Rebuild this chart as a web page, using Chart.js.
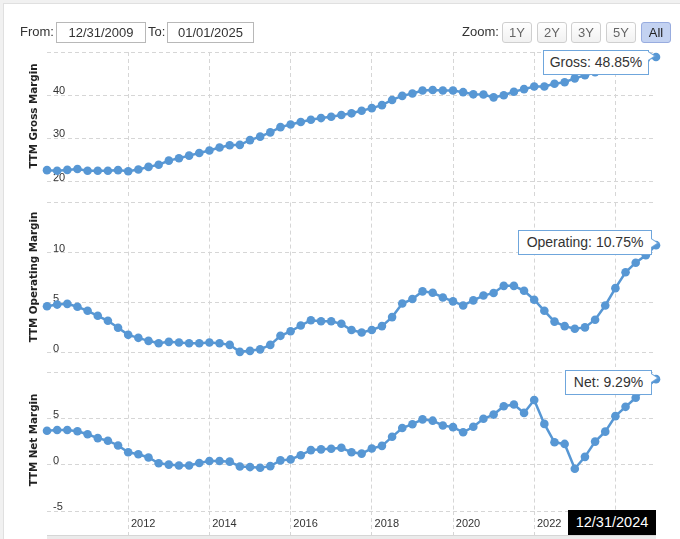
<!DOCTYPE html>
<html><head><meta charset="utf-8">
<script src="https://cdn.jsdelivr.net/npm/chart.js@4.4.1/dist/chart.umd.min.js"></script>
<style>
html,body{margin:0;padding:0;width:680px;height:539px;overflow:hidden;background:#f1f1f1;font-family:"Liberation Sans",Arial,sans-serif;}
#frame{position:absolute;left:3px;top:3px;width:680px;height:540px;background:#fff;border-left:1px solid #e0e0e0;border-top:1px solid #e0e0e0;box-sizing:border-box;}
canvas{position:absolute;left:0;z-index:2;}
.lbl{position:absolute;font-size:13px;color:#333;line-height:20px;z-index:3;}
.inp{position:absolute;top:22px;height:21px;border:1px solid #b8b8b8;box-sizing:border-box;font-size:13px;color:#333;text-align:center;line-height:19px;background:#fff;z-index:3;}
.btn{position:absolute;top:22px;width:30px;height:21px;box-sizing:border-box;border:1px solid #cfcfcf;border-radius:3px;background:linear-gradient(#ffffff,#f1f1f1);font-size:13px;color:#666;text-align:center;line-height:19px;z-index:3;}
.btn.on{background:#c3d2f1;border-color:#98acdf;color:#222;}
.ytitle{position:absolute;left:33px;font:bold 10.3px "DejaVu Sans",Verdana,sans-serif;color:#222;white-space:nowrap;line-height:12px;transform:translate(-50%,-50%) rotate(-90deg);z-index:3;}
.tip{position:absolute;height:25px;box-sizing:border-box;border:1px solid #6fa6dc;background:#fff;font-size:14px;color:#333;text-align:center;line-height:23px;z-index:4;}
.tip .arw{position:absolute;right:-8px;width:0;height:0;border-top:5px solid transparent;border-bottom:5px solid transparent;border-left:8px solid #6fa6dc;}
.tip .arw2{position:absolute;right:-6px;width:0;height:0;border-top:4px solid transparent;border-bottom:4px solid transparent;border-left:6px solid #fff;}
#datebox{position:absolute;left:568px;top:510px;width:88px;height:25px;background:#000;color:#fff;font-size:14.5px;text-align:center;line-height:25px;z-index:4;}
#navbar{position:absolute;left:47px;top:535px;width:609px;height:4px;background:#ebebeb;border-top:1px solid #d6d6d6;z-index:3;}
</style></head>
<body>
<div id="frame"></div>
<div class="lbl" style="left:20px;top:22px;">From:</div>
<div class="inp" id="fromBox" style="left:56px;width:90px;"></div>
<div class="lbl" style="left:148px;top:22px;">To:</div>
<div class="inp" id="toBox" style="left:167px;width:87px;"></div>
<div class="lbl" style="left:462px;top:22px;">Zoom:</div>
<div class="btn" style="left:502px;">1Y</div>
<div class="btn" style="left:537px;">2Y</div>
<div class="btn" style="left:571px;">3Y</div>
<div class="btn" style="left:606px;">5Y</div>
<div class="btn on" style="left:641px;">All</div>

<div class="ytitle" style="top:116px;">TTM Gross Margin</div>
<div class="ytitle" style="top:277px;">TTM Operating Margin</div>
<div class="ytitle" style="top:440px;">TTM Net Margin</div>

<canvas id="cG" width="680" height="210" style="top:0px;width:680px;height:210px;"></canvas>
<canvas id="cO" width="680" height="190" style="top:190px;width:680px;height:190px;"></canvas>
<canvas id="cN" width="680" height="179" style="top:360px;width:680px;height:179px;"></canvas>

<div class="tip" id="tipG" style="left:543px;top:50px;width:106px;"><span></span><div class="arw" style="top:0px;"></div><div class="arw2" style="top:1px;"></div></div>
<div class="tip" id="tipO" style="left:518px;top:230px;width:134px;"><span></span><div class="arw" style="top:7px;"></div><div class="arw2" style="top:8px;"></div></div>
<div class="tip" id="tipN" style="left:565px;top:370px;width:87px;"><span></span><div class="arw" style="top:2px;"></div><div class="arw2" style="top:3px;"></div></div>
<div id="datebox"></div>
<div id="navbar"></div>

<script>
// ---- data ----
const quarterDates = [
  '2009-12-31',
  '2010-03-31','2010-06-30','2010-09-30','2010-12-31',
  '2011-03-31','2011-06-30','2011-09-30','2011-12-31',
  '2012-03-31','2012-06-30','2012-09-30','2012-12-31',
  '2013-03-31','2013-06-30','2013-09-30','2013-12-31',
  '2014-03-31','2014-06-30','2014-09-30','2014-12-31',
  '2015-03-31','2015-06-30','2015-09-30','2015-12-31',
  '2016-03-31','2016-06-30','2016-09-30','2016-12-31',
  '2017-03-31','2017-06-30','2017-09-30','2017-12-31',
  '2018-03-31','2018-06-30','2018-09-30','2018-12-31',
  '2019-03-31','2019-06-30','2019-09-30','2019-12-31',
  '2020-03-31','2020-06-30','2020-09-30','2020-12-31',
  '2021-03-31','2021-06-30','2021-09-30','2021-12-31',
  '2022-03-31','2022-06-30','2022-09-30','2022-12-31',
  '2023-03-31','2023-06-30','2023-09-30','2023-12-31',
  '2024-03-31','2024-06-30','2024-09-30','2024-12-31'
];
const grossMargin = [
  22.65,22.5,22.7,22.9,22.5,22.5,22.5,22.65,22.4,22.8,
  23.4,23.9,24.85,25.4,26.0,26.6,27.2,27.9,28.4,28.5,
  29.6,30.4,31.4,32.6,33.2,33.8,34.3,34.7,35.0,35.4,
  35.8,36.4,37.0,37.7,38.9,39.85,40.4,41.1,41.2,41.1,
  41.1,40.7,40.2,40.15,39.5,40.0,40.8,41.4,42.0,42.0,
  42.65,43.0,43.9,44.6,45.3,45.9,46.5,47.2,47.9,48.4,
  48.85
];
const operatingMargin = [
  4.66,4.82,4.89,4.6,4.2,3.7,3.2,2.5,1.8,1.5,
  1.2,0.96,1.1,1.03,0.96,0.96,1.03,0.96,0.8,0.1,
  0.2,0.35,0.8,1.7,2.15,2.73,3.25,3.15,3.15,2.9,
  2.28,2.03,2.28,2.67,3.57,4.92,5.37,6.14,6.0,5.53,
  5.14,4.73,5.24,5.72,5.98,6.69,6.69,6.2,5.3,4.2,
  3.12,2.67,2.41,2.54,3.31,4.73,6.46,8.04,9.0,9.75,
  10.75
];
const netMargin = [
  3.7,3.78,3.78,3.64,3.32,2.9,2.62,2.1,1.36,1.15,
  0.8,0.17,0.03,-0.07,-0.07,0.21,0.42,0.42,0.35,-0.17,
  -0.24,-0.31,-0.14,0.49,0.59,1.05,1.6,1.68,1.75,1.85,
  1.36,1.22,1.78,2.06,3.04,3.99,4.41,4.93,4.79,4.27,
  4.09,3.53,4.13,5.0,5.45,6.36,6.54,5.63,7.03,4.44,
  2.45,2.27,-0.42,0.87,2.52,3.6,5.28,6.29,7.27,8.3,
  9.29
];
const xTickDates  = ['2011-12-31','2013-12-31','2015-12-31','2017-12-31','2019-12-31','2021-12-31','2023-12-31'];
const xTickLabels = ['2012','2014','2016','2018','2020','2022','2024'];
const grossTicks = [20,30,40,50];
const operatingTicks = [0,5,10,15];
const netTicks = [-5,0,5,10];
const fromDate = '12/31/2009';
const toDate = '01/01/2025';

// ---- helpers ----
function fmtDate(s){ const p=s.split('-'); return p[1]+'/'+p[2]+'/'+p[0]; }
const xTickIdx = xTickDates.map(d => quarterDates.indexOf(d));
const LINE = '#5797d4';
const GRID = '#d6d6d6';

function makeChart(id, values, yMin, yMax, yTicks, padTop, padBottom, isBottom){
  const ctx = document.getElementById(id).getContext('2d');
  return new Chart(ctx, {
    type: 'line',
    data: {
      labels: quarterDates,
      datasets: [{
        data: values,
        borderColor: LINE,
        backgroundColor: LINE,
        borderWidth: 2.5,
        pointRadius: 4.3,
        pointBackgroundColor: LINE,
        pointBorderWidth: 0,
        tension: 0,
        clip: false
      }]
    },
    options: {
      responsive: false,
      animation: false,
      devicePixelRatio: 1,
      layout: { padding: { left: 0, right: 24, top: padTop, bottom: padBottom } },
      plugins: { legend: { display: false }, tooltip: { enabled: false } },
      events: [],
      scales: {
        x: {
          type: 'category',
          offset: false,
          border: { display: false, dash: [4,3] },
          grid: {
            color: GRID, lineWidth: 1,
            drawTicks: isBottom, tickLength: isBottom ? 24 : 0,
            tickColor: GRID, tickBorderDash: [4,3]
          },
          afterBuildTicks: s => { s.ticks = xTickIdx.map(v => ({ value: v })); },
          afterFit: s => { s.height = isBottom ? 28 : 0; },
          ticks: {
            display: isBottom, autoSkip: false, maxRotation: 0, minRotation: 0,
            padding: -17.5, labelOffset: 15,
            color: '#333', font: { family: '"Liberation Sans", Arial, sans-serif', size: 11 },
            callback: (v, i) => xTickLabels[i]
          }
        },
        y: {
          min: yMin, max: yMax,
          border: { display: false, dash: [4,3] },
          grid: { color: GRID, lineWidth: 1, drawTicks: false },
          afterBuildTicks: s => { s.ticks = yTicks.map(v => ({ value: v })); },
          afterFit: s => { s.width = 47; },
          ticks: {
            mirror: true, padding: 6, labelOffset: -4,
            color: '#333', font: { family: '"Liberation Sans", Arial, sans-serif', size: 11 },
            callback: v => (v === yTicks[yTicks.length-1] ? '' : String(v))
          }
        }
      }
    }
  });
}

// gross: chart area 52..199 px; 20 at 183, 50 at 52
makeChart('cG', grossMargin, 20 - 16/(131/30), 50, grossTicks, 52, 11, false);
// operating: chart area 199..369; 15 at 199, 0 at 354
makeChart('cO', operatingMargin, -15/(155/15), 15, operatingTicks, 9, 11, false);
// net: chart area 369..511; 10 at 369, -5 at 511
makeChart('cN', netMargin, -5, 10, netTicks, 9, 0, true);

document.getElementById('fromBox').textContent = fromDate;
document.getElementById('toBox').textContent = toDate;
const last = a => a[a.length-1];
document.querySelector('#tipG span').textContent = 'Gross: ' + last(grossMargin).toFixed(2) + '%';
document.querySelector('#tipO span').textContent = 'Operating: ' + last(operatingMargin).toFixed(2) + '%';
document.querySelector('#tipN span').textContent = 'Net: ' + last(netMargin).toFixed(2) + '%';
document.getElementById('datebox').textContent = fmtDate(last(quarterDates));
</script>
</body></html>
